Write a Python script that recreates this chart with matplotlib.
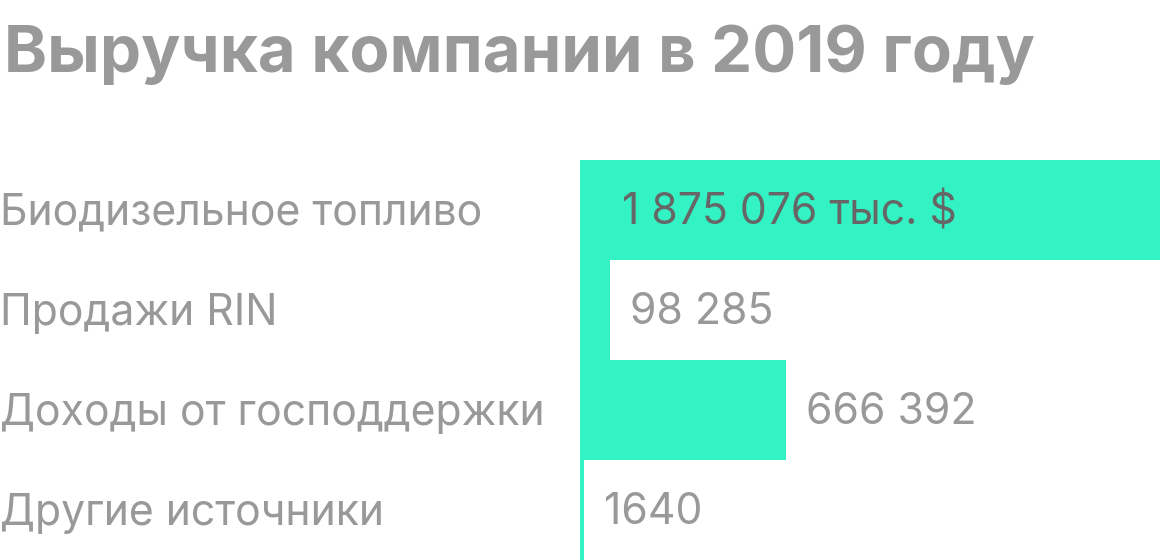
import matplotlib
matplotlib.use("Agg")
import matplotlib.pyplot as plt
import numpy as np

categories = ["Биодизельное топливо", "Продажи RIN", "Доходы от господдержки", "Другие источники"]
values = [1875076, 98285, 666392, 1640]
value_labels = ["1 875 076 тыс. $", "98 285", "666 392", "1640"]
title = "Выручка компании в 2019 году"

BAR = "#33f3c4"
GRAY = "#999999"
DARK = "#666666"
W, H = 1160, 560

plt.rcParams['font.family'] = ['Inter', 'DejaVu Sans']

fig = plt.figure(figsize=(W / 100, H / 100), dpi=100)
ax = fig.add_axes([580 / W, 0, 580 / W, 400 / H])

n = len(values)
y = np.arange(n)
xmax = max(values)
disp = np.maximum(values, xmax * 0.007)
ax.barh(y, disp, height=1.0, color=BAR, linewidth=0)
ax.set_xlim(0, xmax)
ax.set_ylim(n - 0.5, -0.5)
ax.axis("off")

FS = 30.8
PT = 0.72  # points per pixel at dpi 100
BASE = -14.5 * PT
for i, (v, d, lab) in enumerate(zip(values, disp, value_labels)):
    if i == 0:
        ax.annotate(lab, (0, i), xytext=(42 * PT, BASE), textcoords="offset points",
                    ha="left", va="baseline", fontsize=FS, color=DARK)
    else:
        ax.annotate(lab, (d, i), xytext=(20 * PT, BASE), textcoords="offset points",
                    ha="left", va="baseline", fontsize=FS, color=GRAY)

for i, c in enumerate(categories):
    yb = 1 - (160 + 100 * i + 50 + 14.5) / H
    fig.text(0, yb, c, ha="left", va="baseline", fontsize=FS, color=GRAY)

fig.text(4 / W, 1 - 72 / H, title, ha="left", va="baseline", fontsize=47,
         fontweight="bold", color=GRAY)

fig.savefig("out.png", dpi=100, facecolor="white")
